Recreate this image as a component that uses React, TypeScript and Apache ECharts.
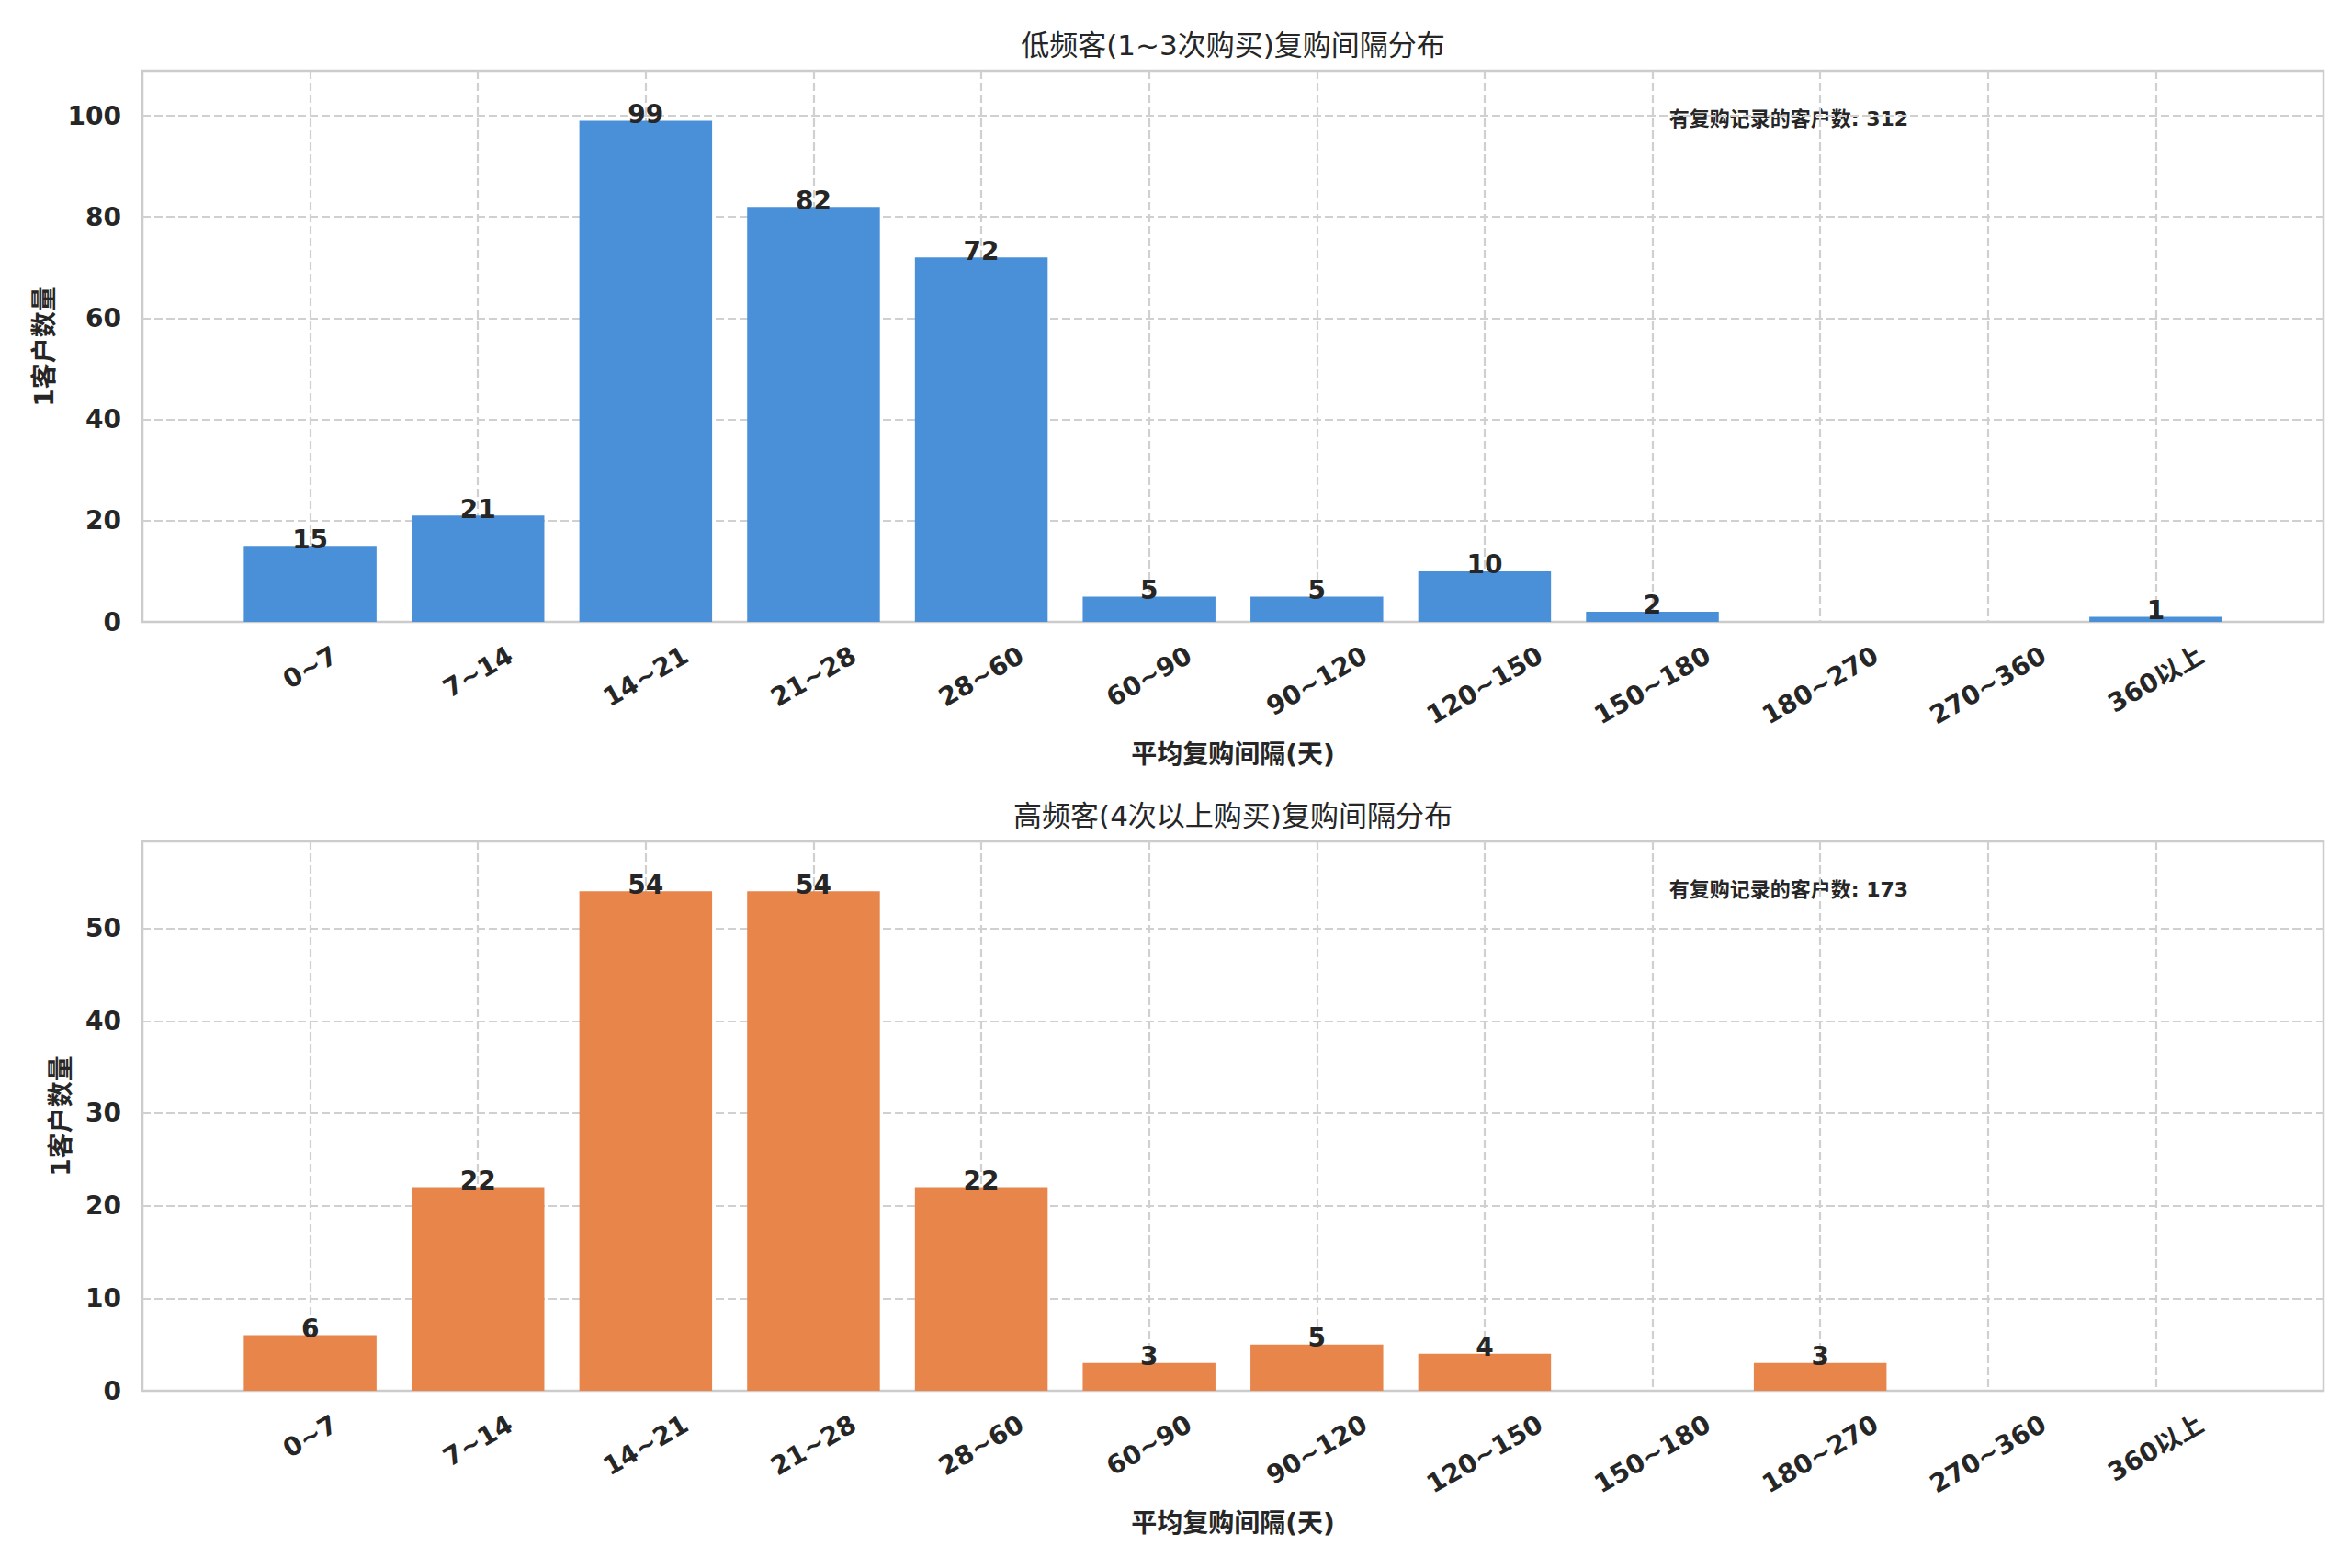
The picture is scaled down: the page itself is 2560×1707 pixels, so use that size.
import { useEffect, useRef } from "react";
import * as echarts from "echarts";

// interval buckets (days)
const CATEGORIES = [
  "0~7",
  "7~14",
  "14~21",
  "21~28",
  "28~60",
  "60~90",
  "90~120",
  "120~150",
  "150~180",
  "180~270",
  "270~360",
  "360以上",
];
const LOW_FREQ_COUNTS = [15, 21, 99, 82, 72, 5, 5, 10, 2, 0, 0, 1];
const HIGH_FREQ_COUNTS = [6, 22, 54, 54, 22, 3, 5, 4, 0, 3, 0, 0];

const TITLES = ["低频客(1~3次购买)复购间隔分布", "高频客(4次以上购买)复购间隔分布"];
const Y_NAME = "1客户数量";
const X_NAME = "平均复购间隔(天)";
const NOTE_PREFIX = "有复购记录的客户数";
const Y_STEPS = [20, 10];

const FONT = '"DejaVu Sans", "Noto Sans CJK SC", sans-serif';
const INK = "#262626";
const GRID_LINE = "#d0d0d0";
const COLORS = ["#4a90d9", "#e8854a"];

const W = 2560;
const H = 1707;
const GRID_LEFT = 155;
const GRID_RIGHT = 31;
const GRIDS = [
  { top: 77, height: 600, yNameGap: 93 },
  { top: 916, height: 598, yNameGap: 75 },
];
const TICK_FONT = 28;

const measure = (text: string): number => {
  const ctx = document.createElement("canvas").getContext("2d");
  if (!ctx) return text.length * TICK_FONT * 0.7;
  ctx.font = `bold ${TICK_FONT}px ${FONT}`;
  return ctx.measureText(text).width;
};

// matplotlib-like rotated tick labels: centred under the tick, top of the
// rotated box kept at a fixed distance from the axis
const buildRich = () => {
  const rich: Record<string, any> = {};
  CATEGORIES.forEach((c, i) => {
    const d = measure(c) * 0.25;
    rich["p" + i] = {
      fontSize: TICK_FONT,
      fontWeight: "bold",
      fontFamily: FONT,
      color: INK,
      padding: [d * 1.732, d, 0, 0],
    };
  });
  return rich;
};

const buildOption = (): echarts.EChartsOption => {
  const rich = buildRich();
  const unit = (W - GRID_LEFT - GRID_RIGHT) / 12.98;
  const data = [LOW_FREQ_COUNTS, HIGH_FREQ_COUNTS];

  return {
    animation: false,
    backgroundColor: "#ffffff",
    textStyle: { fontFamily: FONT },
    grid: GRIDS.map((g) => ({
      left: GRID_LEFT,
      right: GRID_RIGHT,
      top: g.top,
      height: g.height,
      show: true,
      borderColor: "#cccccc",
      borderWidth: 2.5,
      backgroundColor: "transparent",
    })),
    xAxis: GRIDS.map((_, gi) => ({
      type: "value",
      gridIndex: gi,
      min: -1,
      max: 12,
      interval: 1,
      name: X_NAME,
      nameLocation: "middle",
      nameGap: 130,
      nameTextStyle: {
        fontSize: 28,
        fontWeight: "bold",
        color: INK,
        fontFamily: FONT,
      },
      axisLine: { show: false },
      axisTick: { show: false },
      splitLine: {
        show: true,
        showMinLine: false,
        showMaxLine: false,
        lineStyle: { color: GRID_LINE, width: 2.2, type: [9, 4] },
      },
      axisLabel: {
        rotate: 30,
        align: "center",
        verticalAlign: "middle",
        margin: 34,
        showMinLabel: false,
        showMaxLabel: false,
        formatter: (v: number) =>
          CATEGORIES[v] !== undefined ? `{p${v}|${CATEGORIES[v]}}` : "",
        rich,
      },
    })),
    yAxis: GRIDS.map((g, gi) => ({
      type: "value",
      gridIndex: gi,
      min: 0,
      max: Math.max(...data[gi]) * 1.1,
      interval: Y_STEPS[gi],
      name: Y_NAME,
      nameLocation: "middle",
      nameGap: g.yNameGap,
      nameTextStyle: {
        fontSize: 28,
        fontWeight: "bold",
        color: INK,
        fontFamily: FONT,
      },
      axisLine: { show: false },
      axisTick: { show: false },
      splitLine: {
        show: true,
        showMinLine: false,
        showMaxLine: false,
        lineStyle: { color: GRID_LINE, width: 2.2, type: [9, 4] },
      },
      axisLabel: {
        margin: 23,
        showMaxLabel: false,
        fontSize: TICK_FONT,
        fontWeight: "bold",
        color: INK,
        fontFamily: FONT,
        formatter: (v: number) => (v % Y_STEPS[gi] === 0 ? String(v) : ""),
      },
    })),
    series: data.map((counts, gi) => ({
      type: "bar",
      xAxisIndex: gi,
      yAxisIndex: gi,
      barWidth: unit * 0.79,
      data: counts.map((v, i) => [i, v]),
      itemStyle: { color: COLORS[gi] },
      label: {
        show: true,
        position: "top",
        distance: -7,
        fontSize: 28,
        fontWeight: "bold",
        color: INK,
        fontFamily: FONT,
        formatter: (p: any) => (p.value[1] === 0 ? "" : String(p.value[1])),
      },
    })),
    graphic: GRIDS.flatMap((g, gi) => [
      {
        type: "text",
        x: (GRID_LEFT + W - GRID_RIGHT) / 2,
        y: g.top - 28,
        style: {
          text: TITLES[gi],
          align: "center",
          verticalAlign: "middle",
          fontSize: 31,
          fontFamily: FONT,
          fill: INK,
        },
      },
      {
        type: "text",
        x: GRID_LEFT + 0.7 * (W - GRID_LEFT - GRID_RIGHT),
        y: g.top + 52,
        style: {
          text: `${NOTE_PREFIX}: ${data[gi].reduce((a, b) => a + b, 0)}`,
          align: "left",
          verticalAlign: "middle",
          fontSize: 22,
          fontWeight: "bold",
          fontFamily: FONT,
          fill: INK,
        },
      },
    ]),
  };
};

export default function App() {
  const chartRef = useRef<HTMLDivElement | null>(null);

  useEffect(() => {
    if (!chartRef.current) return;
    const chart = echarts.init(chartRef.current, null, { renderer: "svg" });
    chart.setOption(buildOption());
    return () => {
      chart.dispose();
    };
  }, []);

  return (
    <div
      ref={chartRef}
      style={{
        position: "absolute",
        left: 0,
        top: 0,
        width: W,
        height: H,
        background: "#ffffff",
      }}
    />
  );
}
